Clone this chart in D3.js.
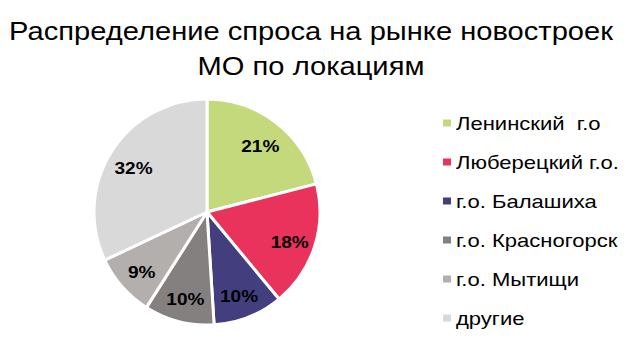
<!DOCTYPE html>
<html>
<head>
<meta charset="utf-8">
<script src="https://cdn.jsdelivr.net/npm/d3@7"></script>
<style>
  html, body { margin: 0; padding: 0; background: #fff; }
  svg { display: block; font-family: "Liberation Sans", Arial, sans-serif; }
</style>
</head>
<body>
<svg id="chart" width="632" height="348"></svg>
<script>
const titleLines = ["Распределение спроса на рынке новостроек", "МО по локациям"];
const categories = ["Ленинский  г.о", "Люберецкий г.о.", "г.о. Балашиха", "г.о. Красногорск", "г.о. Мытищи", "другие"];
const shares = [21, 18, 10, 10, 9, 32];
const colors = ["#c3d97b", "#e9325c", "#433f7f", "#858080", "#b2afad", "#d9d9d9"];

const svg = d3.select("#chart");

// title, slightly widened lettering
const title = svg.append("g");
titleLines.forEach((line, i) => {
  title.append("g")
    .attr("transform", `translate(311,${40 + i * 35}) scale(1.12,1)`)
    .append("text")
    .attr("text-anchor", "middle")
    .attr("font-size", 26)
    .attr("fill", "#000")
    .text(line);
});

// pie
const cx = 207, cy = 212, R = 113, labelR = 87;
const pie = d3.pie().value(d => d).sort(null);
const arcs = pie(shares);
const arc = d3.arc().innerRadius(0).outerRadius(R);
const labelArc = d3.arc().innerRadius(labelR).outerRadius(labelR);

const g = svg.append("g").attr("transform", `translate(${cx},${cy})`);
g.selectAll("path").data(arcs).join("path")
  .attr("d", arc)
  .attr("fill", (d, i) => colors[i])
  .attr("stroke", "#fff")
  .attr("stroke-width", 3)
  .attr("stroke-linejoin", "round");

g.selectAll("g.lbl").data(arcs).join("g")
  .attr("class", "lbl")
  .attr("transform", d => {
    const [x, y] = labelArc.centroid(d);
    return `translate(${x},${y + 3}) scale(1.12,1)`;
  })
  .append("text")
  .attr("text-anchor", "middle")
  .attr("dominant-baseline", "central")
  .attr("font-size", 17)
  .attr("font-weight", "bold")
  .attr("fill", "#000")
  .text(d => d.data + "%");

// legend
const ly = d3.scalePoint().domain(d3.range(categories.length)).range([123, 318]);
const rows = svg.append("g").selectAll("g").data(categories).join("g")
  .attr("transform", (d, i) => `translate(443,${ly(i)})`);
rows.append("rect")
  .attr("x", 0).attr("y", -3.5).attr("width", 8).attr("height", 7)
  .attr("fill", (d, i) => colors[i]);
rows.append("g")
  .attr("transform", "translate(13,0) scale(1.16,1)")
  .append("text")
  .attr("dominant-baseline", "central")
  .attr("font-size", 19)
  .attr("fill", "#000")
  .style("white-space", "pre")
  .text(d => d);
</script>
</body>
</html>
